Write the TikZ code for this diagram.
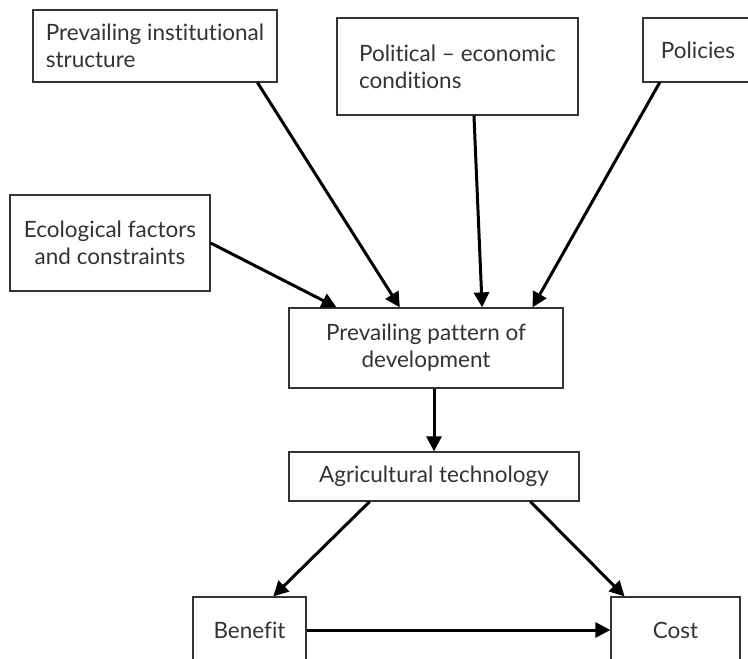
\documentclass[tikz,border=0pt]{standalone}
\usepackage{fontspec}
\setmainfont[Ligatures={NoCommon}]{Lato}
\usetikzlibrary{arrows.meta,calc}
\definecolor{ink}{HTML}{333333}
\begin{document}
\begin{tikzpicture}[x=1pt,y=-1pt,
  box/.style={draw=ink, line width=1.2pt, inner sep=0pt, text=ink,
    font=\fontsize{22.5}{27}\selectfont},
  flow/.style={line width=3pt, -{Triangle[length=15pt,width=15pt]}}]
\useasboundingbox (0,0) rectangle (748,659);
\clip (0,0) rectangle (748,659);

% driving factors
\node[box, minimum width=244pt, minimum height=72pt, align=left] (inst) at (155,46)
  {Prevailing institutional\\structure};
\node[box, minimum width=241pt, minimum height=97pt, align=left] (polecon) at (457.5,66.5)
  {Political -- economic\\conditions};
\node[box, minimum width=110pt, minimum height=64pt] (policies) at (698,50) {Policies};
\node[box, minimum width=200pt, minimum height=96pt, align=center] (eco) at (110,243)
  {Ecological factors\\and constraints};

% pattern of development and technology
\node[box, minimum width=274pt, minimum height=80pt, align=center] (pattern) at (426,348)
  {Prevailing pattern of\\development};
\node[box, minimum width=290pt, minimum height=49pt] (agri) at (434,476.5)
  {Agricultural technology};

% outcomes
\node[box, minimum width=113pt, minimum height=66pt] (benefit) at (249.5,630) {Benefit};
\node[box, minimum width=129pt, minimum height=66pt] (cost) at (675.5,630) {Cost};

% connectors
\draw[flow] ($(inst.south west)!0.918!(inst.south east)$) -- ($(pattern.north west)!0.405!(pattern.north east)$);
\draw[flow] ($(polecon.south west)!0.568!(polecon.south east)$) -- ($(pattern.north west)!0.704!(pattern.north east)$);
\draw[flow] ($(policies.south west)!0.155!(policies.south east)$) -- ($(pattern.north west)!0.887!(pattern.north east)$);
\draw[flow] (eco.east) -- ($(pattern.north west)!0.175!(pattern.north east)$);
\draw[flow] (pattern.south -| agri.north) -- (agri.north);
\draw[flow] ($(agri.south west)!0.279!(agri.south east)$) -- ($(benefit.north west)!0.708!(benefit.north east)$);
\draw[flow] ($(agri.south west)!0.831!(agri.south east)$) -- ($(cost.north west)!0.109!(cost.north east)$);
\draw[flow] (benefit.east) -- (cost.west);
\end{tikzpicture}
\end{document}
